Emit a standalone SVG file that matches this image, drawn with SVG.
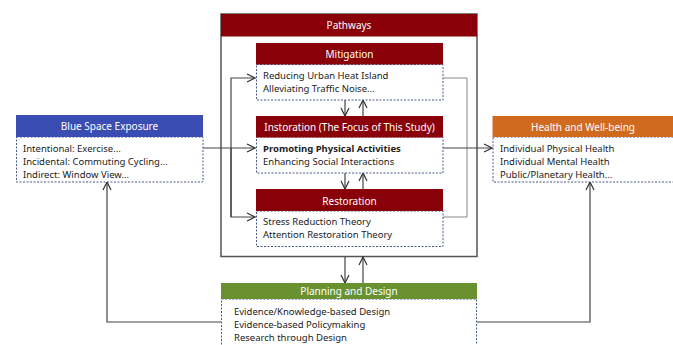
<svg xmlns="http://www.w3.org/2000/svg" width="673" height="345" viewBox="0 0 673 345">
<defs>
<marker id="ah" markerWidth="10" markerHeight="10" refX="9" refY="5" orient="auto" markerUnits="userSpaceOnUse">
<path d="M1,1 L9,5 L1,9" fill="none" stroke="#333" stroke-width="1.2"/>
</marker>
<style>
.hdr{stroke:none}
.red{fill:#8A0008}
.blue{fill:#3A4DB2}
.orange{fill:#D06A1F}
.green{fill:#6A9130}
.body{fill:#fff;stroke:#4A5A8A;stroke-width:1;stroke-dasharray:2 1.5}
.ht{font-family:"Noto Sans","Liberation Sans",sans-serif;font-size:10px;fill:#fff;text-anchor:middle}
.bt{font-family:"Noto Sans","Liberation Sans",sans-serif;font-size:9.5px;fill:#222}
.b{font-weight:bold}
.con{fill:none;stroke:#444;stroke-width:1.2}
.gray{fill:none;stroke:#888;stroke-width:1}
</style>
</defs>
<rect width="673" height="345" fill="#fff"/>

<g id="pathways">
<rect x="221" y="14" width="256" height="242.5" fill="#fff" stroke="#555" stroke-width="1.5"/>
<rect class="hdr red" x="221" y="14" width="256" height="22.5"/>
<text class="ht" x="349" y="29">Pathways</text>
</g>

<g id="connectors">
<path class="gray" d="M443,78 H467 V217 H443"/>
<path class="con" d="M231,217 V78 H255" marker-end="url(#ah)"/>
<path class="con" d="M231,148 V217 H255" marker-end="url(#ah)"/>
<path class="con" d="M203,148 H255" marker-end="url(#ah)"/>
<path class="con" d="M443,148 H492" marker-end="url(#ah)"/>
<path class="con" d="M345,100 V116" marker-end="url(#ah)"/>
<path class="con" d="M363,116 V100" marker-end="url(#ah)"/>
<path class="con" d="M345,173 V189" marker-end="url(#ah)"/>
<path class="con" d="M363,189 V173" marker-end="url(#ah)"/>
<path class="con" d="M345,257 V283" marker-end="url(#ah)"/>
<path class="con" d="M363,283 V257" marker-end="url(#ah)"/>
<path class="con" d="M221,322 H107 V182" marker-end="url(#ah)"/>
<path class="con" d="M477,322 H590 V182" marker-end="url(#ah)"/>
</g>

<g id="blue-space">
<rect class="body" x="16.5" y="137" width="186.5" height="45"/>
<rect class="hdr blue" x="16" y="115" width="187" height="22"/>
<text class="ht" x="109.5" y="130">Blue Space Exposure</text>
<text class="bt" x="23" y="152">Intentional: Exercise...</text>
<text class="bt" x="23" y="165">Incidental: Commuting Cycling...</text>
<text class="bt" x="23" y="177.5">Indirect: Window View...</text>
</g>

<g id="mitigation">
<rect class="body" x="256.5" y="64.5" width="186.5" height="35.5"/>
<rect class="hdr red" x="256" y="43" width="187" height="21.5"/>
<text class="ht" x="349.5" y="58">Mitigation</text>
<text class="bt" x="263" y="78.5">Reducing Urban Heat Island</text>
<text class="bt" x="263" y="91.5">Alleviating Traffic Noise...</text>
</g>

<g id="instoration">
<rect class="body" x="256.5" y="137" width="186.5" height="36"/>
<rect class="hdr red" x="256" y="116" width="187" height="21.5"/>
<text class="ht" x="349.5" y="131">Instoration (The Focus of This Study)</text>
<text class="bt b" x="263" y="152">Promoting Physical Activities</text>
<text class="bt" x="263" y="165">Enhancing Social Interactions</text>
</g>

<g id="restoration">
<rect class="body" x="256.5" y="211" width="186.5" height="35.5"/>
<rect class="hdr red" x="256" y="189" width="187" height="22"/>
<text class="ht" x="349.5" y="204.5">Restoration</text>
<text class="bt" x="263" y="225">Stress Reduction Theory</text>
<text class="bt" x="263" y="238">Attention Restoration Theory</text>
</g>

<g id="health">
<rect class="body" x="493" y="137" width="182" height="45"/>
<rect class="hdr orange" x="492.5" y="116" width="181" height="21"/>
<text class="ht" x="583" y="131">Health and Well-being</text>
<text class="bt" x="500" y="152">Individual Physical Health</text>
<text class="bt" x="500" y="165">Individual Mental Health</text>
<text class="bt" x="500" y="177.5">Public/Planetary Health...</text>
</g>

<g id="planning">
<rect class="body" x="221.5" y="299" width="255" height="60"/>
<rect class="hdr green" x="221" y="283" width="256" height="16"/>
<text class="ht" x="349" y="295">Planning and Design</text>
<text class="bt" x="234" y="314.5">Evidence/Knowledge-based Design</text>
<text class="bt" x="234" y="327.5">Evidence-based Policymaking</text>
<text class="bt" x="234" y="340.5">Research through Design</text>
</g>
</svg>
